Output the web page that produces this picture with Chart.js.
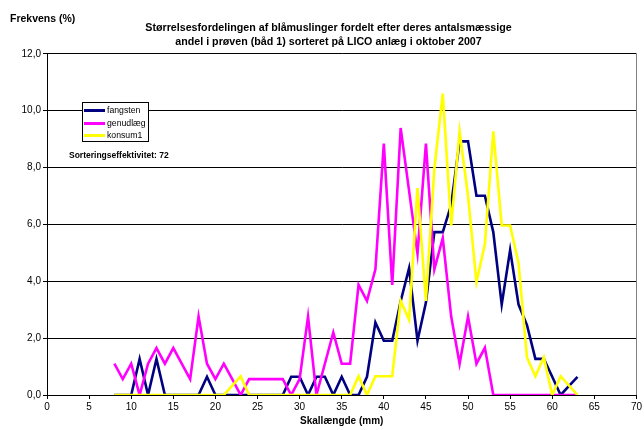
<!DOCTYPE html>
<html>
<head>
<meta charset="utf-8">
<script src="https://cdn.jsdelivr.net/npm/chart.js@4.4.1/dist/chart.umd.min.js"></script>
<style>
  html, body { margin: 0; padding: 0; background: #fff; }
  #wrap { position: relative; width: 644px; height: 430px; font-family: "Liberation Sans", Arial, sans-serif; }
  canvas { position: absolute; left: 0; top: 0; }
  .lbl { position: absolute; white-space: nowrap; color: #000; }
  #ylab { left: 10px; top: 12px; font-size: 10.5px; font-weight: bold; }
  #note { left: 69px; top: 150px; font-size: 8.5px; font-weight: bold; }
  #legend { position: absolute; left: 82px; top: 102px; width: 65px; height: 38px; border: 1px solid #000; background: #fff; font-size: 8.7px; }
  .li { position: absolute; left: 1px; height: 12px; }
  .li span.sw { position: absolute; left: 0; top: 5px; width: 21px; height: 3px; }
  .li span.tx { position: absolute; left: 23px; top: 0; line-height: 12px; white-space: nowrap; }
</style>
</head>
<body>
<div id="wrap">
  <canvas id="c" width="644" height="430"></canvas>
  <div class="lbl" id="ylab">Frekvens (%)</div>
  <div class="lbl" id="note">Sorteringseffektivitet: 72</div>
  <div id="legend"></div>
</div>
<script>
const titleLines = [
  "Størrelsesfordelingen af blåmuslinger fordelt efter deres antalsmæssige",
  "andel i prøven (båd 1) sorteret på LICO anlæg i oktober 2007"
];
const xTitle = "Skallængde (mm)";
const seriesNames = ["fangsten", "genudlæg", "konsum1"];
const seriesColors = ["#000080", "#FF00FF", "#FFFF00"];

// Shell length (mm), 8..63
const lengths = [8,9,10,11,12,13,14,15,16,17,18,19,20,21,22,23,24,25,26,27,28,29,30,31,32,33,34,35,36,37,38,39,40,41,42,43,44,45,46,47,48,49,50,51,52,53,54,55,56,57,58,59,60,61,62,63];

const fangsten = [0,0,0,1.27,0,1.27,0,0,0,0,0,0.64,0,0,0,0,0,0,0,0,0,0.64,0.64,0,0.64,0.64,0,0.64,0,0,0.64,2.55,1.91,1.91,3.3,4.46,1.91,3.25,5.73,5.73,6.69,8.92,8.92,7.01,7.01,5.73,3.18,5.1,3.18,2.46,1.27,1.27,0.64,0,0.32,0.64];

const genudlaeg = [1.1,0.56,1.1,0,1.1,1.65,1.1,1.65,1.1,0.56,2.76,1.1,0.56,1.1,0.56,0,0.56,0.56,0.56,0.56,0.56,0,0.56,2.76,0,1.1,2.2,1.1,1.1,3.87,3.31,4.42,8.84,3.87,9.39,7.18,4.97,8.84,4.42,5.52,2.76,1.1,2.76,1.1,1.66,0,0,0,0,0,0,0,0,0,0,0];

const konsum1 = [0,0,0,0,0,0,0,0,0,0,0,0,0,0,0.33,0.66,0,0,0,0,0,0,0,0,0,0,0,0,0,0.66,0,0.66,0.66,0.66,3.31,2.65,7.28,3.31,7.95,10.6,5.96,9.27,7.0,3.97,5.3,9.27,5.96,5.96,4.64,1.32,0.66,1.32,0,0.66,0.33,0];

const allSeries = [fangsten, genudlaeg, konsum1];

// legend
const leg = document.getElementById('legend');
seriesNames.forEach((n, i) => {
  const d = document.createElement('div');
  d.className = 'li';
  d.style.top = (1 + i * 12.5) + 'px';
  d.innerHTML = '<span class="sw" style="background:' + seriesColors[i] + '"></span><span class="tx">' + n + '</span>';
  leg.appendChild(d);
});

const borderPlugin = {
  id: 'plotBorder',
  afterDraw(chart) {
    const a = chart.chartArea, ctx = chart.ctx;
    ctx.save();
    ctx.strokeStyle = '#808080';
    ctx.lineWidth = 1;
    ctx.beginPath();
    ctx.moveTo(Math.round(a.right) + 0.5, a.top);
    ctx.lineTo(Math.round(a.right) + 0.5, a.bottom);
    ctx.stroke();
    ctx.restore();
  }
};

const FONT = "'Liberation Sans', Arial, sans-serif";

new Chart(document.getElementById('c'), {
  type: 'line',
  data: {
    datasets: allSeries.map((s, i) => ({
      label: seriesNames[i],
      data: lengths.map((x, j) => ({ x: x, y: s[j] })),
      borderColor: seriesColors[i],
      backgroundColor: seriesColors[i],
      borderWidth: 2.6,
      pointRadius: 0,
      tension: 0,
      fill: false,
      order: 3 - i
    }))
  },
  options: {
    responsive: false,
    animation: false,
    layout: { padding: { left: 20, right: 7, top: 0, bottom: 0 } },
    plugins: {
      legend: { display: false },
      tooltip: { enabled: false },
      title: {
        display: true,
        text: titleLines,
        color: '#000',
        font: { family: FONT, size: 10.7, weight: 'bold', lineHeight: 1.3 },
        padding: { top: 21, bottom: 5 }
      }
    },
    scales: {
      x: {
        type: 'linear',
        min: 0, max: 70,
        afterFit(scale) { scale.height = 35; },
        ticks: { stepSize: 5, color: '#000', font: { family: FONT, size: 10 }, padding: 2, maxRotation: 0 },
        grid: { drawOnChartArea: false, drawTicks: true, tickLength: 4, color: '#000' },
        border: { display: true, color: '#000', width: 1 },
        title: { display: true, text: xTitle, color: '#000', font: { family: FONT, size: 10, weight: 'bold' }, padding: { top: 2, bottom: 3 } }
      },
      y: {
        min: 0, max: 12,
        afterFit(scale) { scale.width = 27; },
        ticks: {
          stepSize: 2, color: '#000', font: { family: FONT, size: 10 }, padding: 2,
          callback: v => v.toFixed(1).replace('.', ',')
        },
        grid: { color: '#000', lineWidth: 1, tickLength: 4 },
        border: { display: true, color: '#000', width: 1 }
      }
    }
  },
  plugins: [borderPlugin]
});
</script>
</body>
</html>
